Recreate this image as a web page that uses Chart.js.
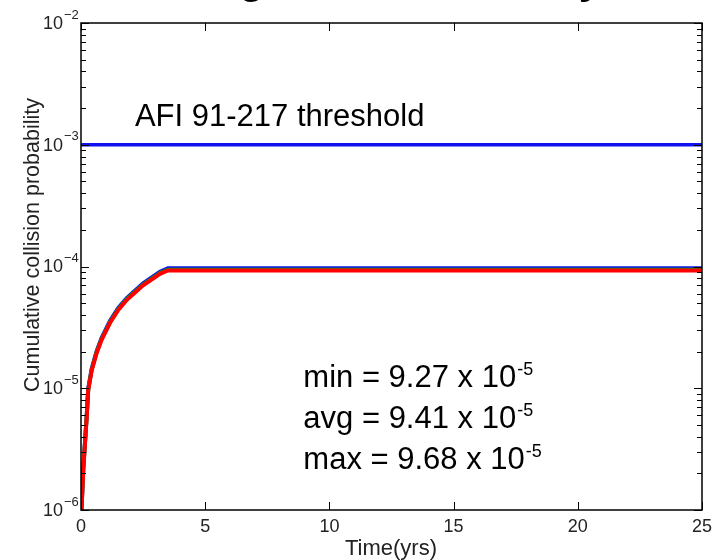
<!DOCTYPE html>
<html>
<head>
<meta charset="utf-8">
<script src="https://cdn.jsdelivr.net/npm/chart.js@4"></script>
<style>
  html, body { margin: 0; padding: 0; background: #fff; }
  #wrap { width: 714px; height: 560px; position: relative; }
</style>
</head>
<body>
<div id="wrap"><canvas id="myChart"></canvas></div>
<script>
// Datos del grafico
const titulo = 'Long Term, Full Study';
const xTicks = [0, 5, 10, 15, 20, 25];
const yExponents = [-6, -5, -4, -3, -2];

// tiempo en años
const timeYrs = [0.02, 0.09, 0.16, 0.23, 0.29, 0.43, 0.63, 0.83, 1.17, 1.5, 1.84, 2.5, 3.18, 3.5, 25];
// probabilidad acumulada (min / avg / max)
const minSeries = [1e-6, 2.1e-6, 3.5e-6, 5.8e-6, 9.6e-6, 1.4e-5, 1.95e-5, 2.5e-5, 3.45e-5, 4.4e-5, 5.3e-5, 7.0e-5, 8.7e-5, 9.27e-5, 9.27e-5];
const avgSeries = [1e-6, 2.15e-6, 3.55e-6, 5.9e-6, 9.75e-6, 1.42e-5, 1.98e-5, 2.54e-5, 3.5e-5, 4.47e-5, 5.38e-5, 7.1e-5, 8.83e-5, 9.41e-5, 9.41e-5];
const maxSeries = [1e-6, 2.2e-6, 3.6e-6, 6.0e-6, 9.9e-6, 1.45e-5, 2.02e-5, 2.6e-5, 3.58e-5, 4.57e-5, 5.5e-5, 7.28e-5, 9.05e-5, 9.68e-5, 9.68e-5];

// umbral AFI 91-217
const thresholdTime = [0, 25];
const thresholdValue = [1e-3, 1e-3];
const thresholdLabel = 'AFI 91-217 threshold';

// estadisticas
const statNames = ['min', 'avg', 'max'];
const statValues = ['9.27', '9.41', '9.68'];
const statExp = '-5';

const xTitle = 'Time(yrs)';
const yTitle = 'Cumulative collision probability';

const pts = (xs, ys) => xs.map((x, i) => ({ x: x, y: ys[i] }));

const FONT = '"Liberation Sans", Arial, Helvetica, sans-serif';

// Plugin para dibujar ejes estilo MATLAB
const matlabAxes = {
  id: 'matlabAxes',
  afterDraw(chart) {
    const ctx = chart.ctx;
    const a = chart.chartArea;
    const xs = chart.scales.x;
    const ys = chart.scales.y;
    ctx.save();

    // titulo (cortado arriba, solo se ven los descendentes)
    ctx.fillStyle = '#000';
    ctx.font = 'bold 42px ' + FONT;
    ctx.textAlign = 'left';
    ctx.textBaseline = 'alphabetic';
    ctx.fillText(titulo, 162, -7);

    // caja
    ctx.strokeStyle = '#000';
    ctx.lineWidth = 1.5;
    ctx.strokeRect(a.left, a.top, a.right - a.left, a.bottom - a.top);

    // ticks x
    ctx.lineWidth = 1;
    xTicks.forEach(v => {
      const px = Math.round(xs.getPixelForValue(v)) + 0.5;
      ctx.beginPath();
      ctx.moveTo(px, a.bottom); ctx.lineTo(px, a.bottom - 8);
      ctx.moveTo(px, a.top); ctx.lineTo(px, a.top + 8);
      ctx.stroke();
    });

    // ticks y (mayores y menores)
    yExponents.forEach((e, i) => {
      for (let m = 1; m <= 9; m++) {
        if (m > 1 && i === yExponents.length - 1) break;
        const py = Math.round(ys.getPixelForValue(m * Math.pow(10, e))) + 0.5;
        const len = m === 1 ? 8 : 5;
        ctx.beginPath();
        ctx.moveTo(a.left, py); ctx.lineTo(a.left + len, py);
        ctx.moveTo(a.right, py); ctx.lineTo(a.right - len, py);
        ctx.stroke();
      }
    });

    // etiquetas y
    ctx.fillStyle = '#222';
    yExponents.forEach(e => {
      const py = ys.getPixelForValue(Math.pow(10, e));
      ctx.textAlign = 'right';
      ctx.textBaseline = 'middle';
      ctx.font = '18px ' + FONT;
      ctx.fillText('10', 63, py + 1);
      ctx.textAlign = 'left';
      ctx.font = '13px ' + FONT;
      ctx.fillText('\u2212' + Math.abs(e), 64, py - 8);
    });

    // etiquetas x
    ctx.textAlign = 'center';
    ctx.textBaseline = 'top';
    ctx.font = '18px ' + FONT;
    xTicks.forEach(v => {
      ctx.fillText(String(v), xs.getPixelForValue(v), a.bottom + 8);
    });

    // titulos de ejes
    ctx.font = '22px ' + FONT;
    ctx.textBaseline = 'middle';
    ctx.fillText(xTitle, 391, 549);

    ctx.save();
    ctx.beginPath();
    ctx.rect(23, 0, 100, 560);
    ctx.clip();
    ctx.translate(39, 245);
    ctx.rotate(-Math.PI / 2);
    ctx.textAlign = 'center';
    ctx.textBaseline = 'alphabetic';
    ctx.font = '21.5px ' + FONT;
    ctx.fillText(yTitle, 0, 0);
    ctx.restore();

    // texto del umbral
    ctx.fillStyle = '#000';
    ctx.font = '31px ' + FONT;
    ctx.textAlign = 'left';
    ctx.textBaseline = 'alphabetic';
    ctx.fillText(thresholdLabel, xs.getPixelForValue(2.17), ys.getPixelForValue(thresholdValue[0]) - 19);

    // estadisticas
    const sx = xs.getPixelForValue(8.95);
    let sy = ys.getPixelForValue(1.02e-5);
    statNames.forEach((n, i) => {
      ctx.font = '31px ' + FONT;
      const txt = n + ' = ' + statValues[i] + ' x 10';
      ctx.fillText(txt, sx, sy);
      const w = ctx.measureText(txt).width;
      ctx.font = '18px ' + FONT;
      ctx.fillText(statExp, sx + w + 1, sy - 12);
      sy += 41;
    });

    ctx.restore();
  }
};

const ctx = document.getElementById('myChart').getContext('2d');
const myChart = new Chart(ctx, {
  type: 'line',
  data: {
    datasets: [
      { data: pts(timeYrs, minSeries), borderColor: '#ff0000', borderWidth: 4 },
      { data: pts(timeYrs, avgSeries), borderColor: '#00a000', borderWidth: 4 },
      { data: pts(timeYrs, maxSeries), borderColor: '#1010f0', borderWidth: 4 },
      { data: pts(thresholdTime, thresholdValue), borderColor: '#1010f0', borderWidth: 3.5 }
    ]
  },
  options: {
    responsive: true,
    maintainAspectRatio: false,
    animation: false,
    layout: { padding: { left: 81, right: 12, top: 23, bottom: 50 } },
    elements: { point: { radius: 0 }, line: { tension: 0 } },
    plugins: { legend: { display: false }, tooltip: { enabled: false } },
    scales: {
      x: { type: 'linear', min: 0, max: 25, display: false },
      y: { type: 'logarithmic', min: 1e-6, max: 1e-2, display: false }
    }
  },
  plugins: [matlabAxes]
});
</script>
</body>
</html>
